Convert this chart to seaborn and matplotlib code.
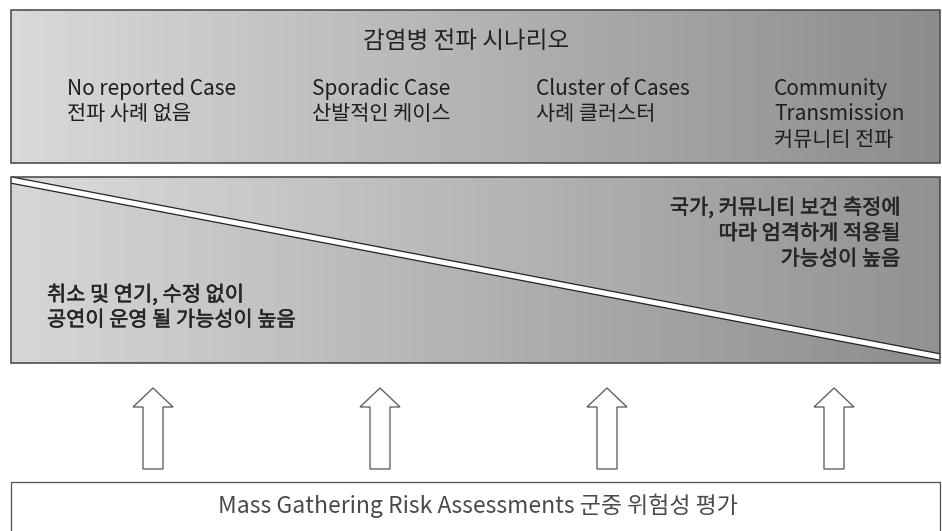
import numpy as np
import seaborn as sns
import matplotlib.pyplot as plt
import matplotlib.patheffects as pe
from matplotlib.patches import Polygon, Rectangle

# 데이터: 시나리오 단계, 설명 문구
scenario_title = '감염병 전파 시나리오'
scenario_en = ['No reported Case', 'Sporadic Case', 'Cluster of Cases', 'Community\nTransmission']
scenario_ko = ['전파 사례 없음', '산발적인 케이스', '사례 클러스터', '커뮤니티 전파']
low_text = '취소 및 연기, 수정 없이\n공연이 운영 될 가능성이 높음'
high_text = '국가, 커뮤니티 보건 측정에\n따라 엄격하게 적용될\n가능성이 높음'
bottom_text = 'Mass Gathering Risk Assessments 군중 위험성 평가'

sns.set_theme(style='white')
plt.rcParams['font.family'] = ['Noto Sans CJK KR', 'DejaVu Sans']

W, H = 942, 531
fig = plt.figure(figsize=(W / 100, H / 100), dpi=100)
ax = fig.add_axes([0, 0, 1, 1])
ax.set_xlim(0, W)
ax.set_ylim(H, 0)
ax.axis('off')

px = 0.72  # 1 픽셀 = 0.72pt


def gradient(x0, x1, y0, y1, left, right, clip):
    g = np.linspace(left, right, 256).reshape(1, -1)
    im = ax.imshow(g, extent=[x0, x1, y1, y0], cmap='gray', vmin=0, vmax=1,
                   aspect='auto', interpolation='bicubic', zorder=1)
    im.set_clip_path(clip)


def lines(x, y0, step, txt, **kw):
    # 줄마다 따로 찍어서 줄 간격을 맞춤
    for k, s in enumerate(txt.split('\n')):
        ax.text(x, y0 + k * step, s, va='center', zorder=4, **kw)


# 위쪽 박스
bx0, bx1 = 11, 940
top = Rectangle((bx0, 10), bx1 - bx0, 153, facecolor='none', edgecolor='#4a4a4a',
                lw=1.6 * px, zorder=3)
ax.add_patch(top)
gradient(bx0, bx1, 10, 163, 0.85, 0.55, top)

ax.text(466, 41, scenario_title, ha='center', va='center', fontsize=17, color='#222222', zorder=4)
text_x = [67, 312, 536, 774]
for i, (en, ko) in enumerate(zip(scenario_en, scenario_ko)):
    lines(text_x[i], 89, 25.5, en + '\n' + ko, ha='left', fontsize=15, color='#1e1e1e')

# 가운데 박스 (대각선으로 나뉨)
my0, my1 = 177, 363
ly0, ly1 = 180, 357
mid = Rectangle((bx0, my0), bx1 - bx0, my1 - my0, facecolor='none', edgecolor='#4a4a4a',
                lw=1.6 * px, zorder=3)
ax.add_patch(mid)
upper = Polygon([(bx0, my0), (bx1, my0), (bx1, ly1)], closed=True, facecolor='none',
                edgecolor='none', transform=ax.transData)
lower = Polygon([(bx0, ly0), (bx1, ly1), (bx1, my1), (bx0, my1)], closed=True,
                facecolor='none', edgecolor='none', transform=ax.transData)
ax.add_patch(upper)
ax.add_patch(lower)
gradient(bx0, bx1, my0, my1, 0.86, 0.57, upper)
gradient(bx0, bx1, my0, my1, 0.84, 0.55, lower)
ax.plot([bx0, bx1], [ly0, ly1], color='#222222', lw=7.5 * px, solid_capstyle='butt', zorder=2)
ax.plot([bx0, bx1], [ly0, ly1], color='white', lw=5 * px, solid_capstyle='butt', zorder=2)

# 중간 굵기 느낌을 주려고 얇은 외곽선을 덧씌움
medium = [pe.withStroke(linewidth=0.4, foreground='#262626')]
lines(47, 295, 25, low_text, ha='left', fontsize=15, color='#262626', path_effects=medium)
lines(900, 208, 25.5, high_text, ha='right', fontsize=15, color='#262626', path_effects=medium)

# 화살표
for i in range(len(scenario_en)):
    cx = 153 + i * 227
    arrow = Polygon([(cx, 388), (cx + 20, 407), (cx + 10, 407), (cx + 10, 469),
                     (cx - 10, 469), (cx - 10, 407), (cx - 20, 407)], closed=True,
                    facecolor='white', edgecolor='#5a5a5a', lw=1.3 * px, zorder=3)
    ax.add_patch(arrow)

# 아래 박스
ax.plot([bx0, bx0, bx1, bx1], [H + 5, 482, 482, H + 5], color='#555555', lw=1.3 * px,
        zorder=3, clip_on=False)
ax.text(478, 506, bottom_text, ha='center', va='center', fontsize=16.5, fontweight='light',
        color='#4a4a4a', zorder=4)

fig.savefig('out.png', dpi=100, facecolor='white')
